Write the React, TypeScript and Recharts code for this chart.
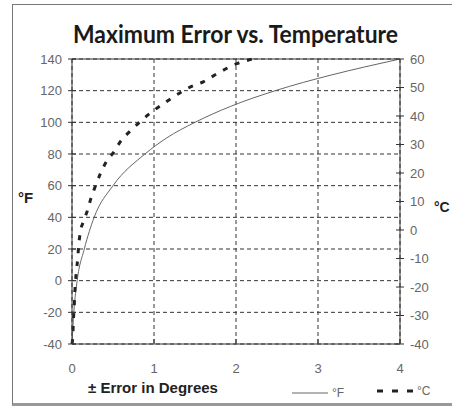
import React from "react";
import {
  CartesianGrid,
  Label,
  Line,
  LineChart,
  ReferenceLine,
  XAxis,
  YAxis,
} from "recharts";

// °F curve: temperature (°F) and max error (°F)
const fTemps = [-40, -20, 0, 20, 40, 60, 80, 90, 100, 110, 120, 130, 135, 140];
const fErrors = [0, 0.022, 0.063, 0.15, 0.27, 0.5, 0.89, 1.15, 1.5, 1.93, 2.48, 3.17, 3.57, 4.0];

// °C curve: temperature (°C) and max error (°C)
const cTemps = [-40, -37, -31, -27, -22, -18, -14, -10, -6, -1, 3, 7, 11, 15, 20, 24, 27, 31, 35, 39, 42, 45, 48, 50, 52, 55, 58, 60];
const cErrors = [0, 0.01, 0.018, 0.027, 0.034, 0.043, 0.055, 0.07, 0.08, 0.1, 0.14, 0.19, 0.23, 0.28, 0.35, 0.42, 0.5, 0.59, 0.72, 0.87, 1.0, 1.15, 1.31, 1.43, 1.6, 1.78, 1.98, 2.2];

const errorTicks = [0, 1, 2, 3, 4];
const fTicks = [-40, -20, 0, 20, 40, 60, 80, 100, 120, 140];
const cTicks = [-40, -30, -20, -10, 0, 10, 20, 30, 40, 50, 60];

const fData = fTemps.map((t, i) => ({ err: fErrors[i], f: t }));
const cData = cTemps.map((t, i) => ({ err: cErrors[i], c: t }));

const tickFont = "'Liberation Sans', Arial, sans-serif";
const tickColor = "#666";
const axisColor = "#333";

function LeftTick(props: any) {
  const { x, y, payload } = props;
  return (
    <g>
      <line x1={x + 6} x2={x + 14} y1={y} y2={y} stroke={axisColor} />
      <text x={x} y={y} dy={4.5} textAnchor="end" fill={tickColor} fontSize={13} fontFamily={tickFont}>
        {payload.value}
      </text>
    </g>
  );
}

function RightTick(props: any) {
  const { x, y, payload } = props;
  return (
    <g>
      <line x1={x - 14} x2={x - 6} y1={y} y2={y} stroke={axisColor} />
      <text x={x} y={y} dy={4.5} textAnchor="start" fill={tickColor} fontSize={13} fontFamily={tickFont}>
        {payload.value}
      </text>
    </g>
  );
}

function BottomTick(props: any) {
  const { x, y, payload } = props;
  return (
    <g>
      <line x1={x} x2={x} y1={y - 24} y2={y - 29} stroke={axisColor} />
      <text x={x} y={y} dy={4.5} textAnchor="middle" fill={tickColor} fontSize={13} fontFamily={tickFont}>
        {payload.value}
      </text>
    </g>
  );
}

export default function App() {
  return (
    <div style={{ position: "absolute", left: 0, top: 0, width: 452, height: 409, background: "#fff", overflow: "hidden" }}>
      <div
        style={{
          position: "absolute",
          left: 12,
          top: 4,
          width: 460,
          height: 398,
          borderLeft: "1px solid #777",
          borderTop: "1px solid #777",
          borderBottom: "3px solid #999",
        }}
      />
      <LineChart
        width={452}
        height={409}
        margin={{ top: 59, right: 0, bottom: 0, left: 0 }}
        style={{ position: "absolute", left: 0, top: 0 }}
      >
        <CartesianGrid yAxisId="f" stroke="#333" strokeDasharray="4 3" />
        <XAxis
          type="number"
          dataKey="err"
          domain={[0, 4]}
          ticks={errorTicks}
          height={65}
          tickSize={4}
          tickMargin={20}
          tickLine={false}
          axisLine={{ stroke: axisColor }}
          tick={<BottomTick />}
          allowDuplicatedCategory={false}
        >
          <Label
            content={(p: any) => (
              <text
                x={p.viewBox.x + 16}
                y={p.viewBox.y + 49}
                fill="#222"
                fontSize={15}
                fontWeight="bold"
                fontFamily={tickFont}
              >
                ± Error in Degrees
              </text>
            )}
          />
        </XAxis>
        <YAxis
          yAxisId="f"
          orientation="left"
          type="number"
          domain={[-40, 140]}
          ticks={fTicks}
          width={72}
          tickSize={4}
          tickMargin={6}
          tickLine={false}
          axisLine={{ stroke: axisColor }}
          tick={<LeftTick />}
        >
          <Label
            content={(p: any) => (
              <text
                x={p.viewBox.x + 18}
                y={p.viewBox.y + p.viewBox.height / 2 + 1}
                fill="#222"
                fontSize={15}
                fontWeight="bold"
                fontFamily={tickFont}
              >
                °F
              </text>
            )}
          />
        </YAxis>
        <YAxis
          yAxisId="c"
          orientation="right"
          type="number"
          domain={[-40, 60]}
          ticks={cTicks}
          width={52}
          tickSize={4}
          tickMargin={6}
          tickLine={false}
          axisLine={{ stroke: axisColor }}
          tick={<RightTick />}
        />
        <ReferenceLine yAxisId="f" y={140} stroke={axisColor} />
        <Line
          yAxisId="f"
          data={fData}
          dataKey="f"
          type="monotone"
          stroke="#666"
          strokeWidth={1}
          dot={false}
          isAnimationActive={false}
        />
        <Line
          yAxisId="c"
          data={cData}
          dataKey="c"
          type="monotone"
          stroke="#222"
          strokeWidth={3}
          strokeDasharray="5 8"
          dot={false}
          isAnimationActive={false}
        />
      </LineChart>
      <svg
        width={452}
        height={409}
        style={{ position: "absolute", left: 0, top: 0, pointerEvents: "none" }}
      >
        <text
          x={235.5}
          y={43}
          textAnchor="middle"
          fontSize={25}
          fontWeight="bold"
          fontFamily="Lato, 'Open Sans', sans-serif"
          fill="#1a1a1a"
          textLength={325}
          lengthAdjust="spacingAndGlyphs"
        >
          Maximum Error vs. Temperature
        </text>
        <text x={434} y={212} fill="#222" fontSize={14} fontWeight="bold" fontFamily={tickFont}>
          °C
        </text>
        <line x1={292} x2={328} y1={393} y2={393} stroke="#666" strokeWidth={1} />
        <text x={332} y={397} fontSize={12} fill={tickColor} fontFamily={tickFont}>
          °F
        </text>
        <line x1={377} x2={414} y1={391} y2={391} stroke="#222" strokeWidth={3} strokeDasharray="6 9" />
        <text x={417} y={395} fontSize={12} fill={tickColor} fontFamily={tickFont}>
          °C
        </text>
      </svg>
    </div>
  );
}
